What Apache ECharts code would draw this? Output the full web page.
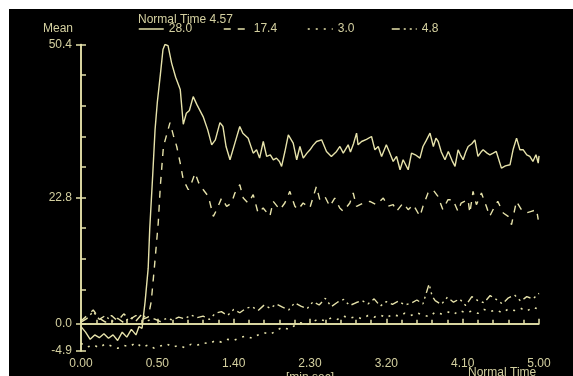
<!DOCTYPE html>
<html lang="en">

<head>
  <meta charset="UTF-8">
  <title>Mean - Normal Time</title>
  <script src="https://cdn.jsdelivr.net/npm/echarts@6/dist/echarts.min.js"></script>
  <style>
    body { margin: 0; background: #fff; }
    #chart { position: absolute; left: 9px; top: 9px; width: 564px; height: 367px; background: #000; }
  </style>
</head>

<body>
  <div id="chart"></div>
  <script>
    // time in seconds, value = mean
    var solidT = [0, 3, 6, 9, 12, 15, 18, 21, 24, 27, 30, 33, 36, 38, 40, 42, 44, 45, 47, 48.5, 50, 52, 53.7, 55, 57, 59.4, 62, 65, 67, 69, 71, 73.5, 76, 80, 83, 85.6, 88, 91, 93, 95, 97.6, 100.8, 104, 106, 109.5, 112.8, 115, 117, 119.4, 121.6, 124, 126, 128, 130, 131.4, 133.5, 135.8, 139, 141.3, 143.4, 145.6, 148, 150, 152, 154.3, 157.6, 160.8, 164, 167.4, 169.6, 171.8, 175, 176.5, 178.5, 180.5, 181.5, 183.8, 187, 190.3, 192.5, 194.7, 196.9, 200, 202, 204.5, 206.7, 209, 211, 214.3, 216.5, 219, 222, 224, 226, 228.6, 230.8, 232.5, 234, 236, 238.4, 240.6, 243, 245, 247, 248.5, 250.3, 252, 253.6, 256, 258, 260, 262, 263.4, 266, 267.8, 270, 272, 275.4, 278, 281, 283, 285.3, 287.5, 289.7, 292, 294, 296, 298, 299.5, 300]
    var solidV = [-0.5, -1.5, -2.8, -2.0, -2.5, -1.8, -2.6, -2.0, -3.0, -1.5, -2.4, -1.0, -2.0, -0.5, -0.8, 4, 10, 17, 27, 35, 40, 45, 49.5, 50.4, 50.2, 47, 44.5, 42.3, 36, 38, 38.5, 41, 39.5, 37.4, 35, 32.3, 33.2, 36.3, 35.6, 32, 29.6, 32.6, 35.6, 34.4, 33.5, 30.8, 31.4, 29.9, 32.9, 30.2, 30.5, 29.6, 29.9, 29.3, 28.4, 31, 34.1, 32.6, 29.6, 32, 29.9, 30.8, 31.4, 32.2, 32.9, 33.2, 31.1, 30.2, 31.1, 32, 30.8, 32.3, 31, 32.5, 34.4, 32.3, 32.9, 33.3, 33.8, 31.4, 32, 30.2, 32.3, 31, 29.3, 30.2, 27.8, 29.6, 27.8, 30.8, 30.5, 29.9, 32, 33, 34.4, 32, 33.5, 32.9, 31, 29.6, 31.1, 29.5, 28.4, 31.4, 30.5, 29.6, 31, 32, 32.5, 33.2, 30.2, 31, 31.4, 30.8, 30.5, 30.8, 31.1, 28.1, 28.5, 28.7, 31.4, 33.5, 31.4, 31.4, 30.5, 30.2, 29.3, 30.5, 29, 30.3]

    var dashT = [0, 4, 8, 12, 16, 20, 24, 28, 32, 36, 40, 44, 46, 48, 50.6, 52, 54, 56, 58.3, 60.5, 62.7, 65, 67, 70.3, 72.5, 74.7, 77, 80.1, 83.4, 86.7, 88.9, 92.1, 95.4, 98.6, 100.8, 104, 106.3, 109.5, 112.8, 116, 119.3, 123.7, 125.9, 130.3, 133.5, 136.8, 140.1, 142.2, 145.5, 149.9, 154.2, 156.4, 159.7, 163, 166.2, 169.5, 171.8, 176.1, 178.3, 180.5, 184.8, 189.2, 193.6, 198, 201, 204.5, 206.7, 211, 214.3, 217.6, 222, 224, 227.3, 230.6, 233.8, 237, 240.4, 243.6, 246.9, 249, 253.5, 254.7, 256.8, 259, 262.3, 265.5, 267.7, 271, 273, 276.6, 279.8, 282, 285.2, 288.5, 291.7, 295, 298.4, 299.5]
    var dashV = [0.5, 1.5, 2.5, 1, 0.3, 1.5, 0.5, 1.8, 0.8, 1.5, 0.8, 1.2, 4, 10, 18.2, 25, 32, 34, 36.3, 34, 32, 29, 26, 24.2, 25.5, 27.2, 25.5, 24.2, 23, 19.4, 20.6, 22.7, 21.2, 21.8, 23.6, 25.1, 22.7, 21.8, 23.3, 20, 20.9, 19.4, 22.1, 20.6, 21.8, 23.9, 21.2, 20.6, 21.8, 20.9, 24.8, 22.4, 23, 21.2, 22.7, 20.9, 20.3, 21.8, 23.6, 21.2, 21.8, 22.1, 21.5, 22.7, 21.2, 21.5, 20.3, 21.8, 20.6, 21.5, 19.4, 21.2, 23.6, 24.2, 23, 20.6, 22.4, 22.4, 20.3, 21.8, 22.4, 20, 23.9, 21.5, 23.6, 21.2, 19.4, 21.2, 22.1, 20, 19.4, 17.9, 22.1, 20.6, 20, 20.3, 20.6, 18.8]

    var dotT = [0, 4, 8, 12, 16, 20, 24, 28, 32, 36, 40, 44, 48, 52, 56, 60, 64, 68, 72, 76, 80, 84, 88, 92, 96, 100, 104, 108, 112, 116, 120, 124, 128, 132, 136, 140, 144, 148, 152, 156, 160, 164, 168, 172, 176, 180, 184, 188, 192, 196, 200, 204, 208, 212, 216, 220, 224, 228, 232, 236, 240, 244, 248, 252, 256, 260, 264, 268, 272, 276, 280, 284, 288, 292, 296, 300]
    var dotV = [-3.5, -4.2, -3.8, -4.3, -3.6, -4.0, -4.4, -3.9, -4.1, -3.4, -4.2, -3.8, -4.4, -4.0, -3.6, -4.2, -3.9, -4.3, -3.7, -3.9, -3.4, -3.6, -3.0, -3.3, -2.8, -3.0, -2.5, -2.2, -2.6, -2.0, -1.6, -1.9, -1.2, -0.6, -1.0, -0.3, 0.2, -0.2, 0.4, 0.9, 0.5, 1.1, 0.8, 1.4, 1.0, 1.3, 0.9, 1.5, 1.2, 1.6, 1.1, 1.7, 1.4, 1.9, 1.5, 2.0, 1.6, 1.3, 2.1, 1.8, 2.2, 1.7, 2.4, 2.0, 2.3, 1.9, 2.6, 2.2, 2.5, 2.0, 2.7, 2.4, 2.8, 2.3, 3.0, 2.6]

    var dashDotT = [0, 4, 8, 12, 16, 20, 24, 28, 32, 36, 40, 44, 48, 52, 56, 60, 64, 68, 72, 76, 80, 84, 88, 92, 96, 100, 104, 108, 112, 116, 120, 124, 128, 132, 136, 140, 144, 148, 152, 156, 160, 164, 168, 172, 176, 180, 184, 188, 192, 196, 200, 204, 208, 212, 216, 220, 224, 228, 230, 232, 236, 240, 244, 248, 252, 256, 260, 264, 268, 272, 276, 280, 284, 288, 292, 296, 300]
    var dashDotV = [0.3, 1.0, 2.2, 0.8, 1.5, 0.4, 1.0, 0.2, 1.2, 0.5, 1.8, 0.6, 0.9, 0.4, 1.0, 0.7, 1.2, 0.9, 1.6, 1.1, 1.4, 0.8, 1.9, 2.2, 1.5, 2.6, 2.0, 2.8, 3.1, 2.4, 3.4, 2.8, 3.6, 3.0, 2.5, 3.8, 3.2, 2.7, 4.0, 3.4, 4.6, 3.1, 3.9, 4.4, 3.3, 3.8, 4.2, 3.6, 4.5, 3.2, 4.0, 3.5, 4.1, 3.4, 3.7, 4.3, 3.6, 7.2, 5.0, 4.2, 3.5, 4.8, 3.9, 4.5, 3.3, 4.9, 4.2, 3.8, 5.1, 4.4, 3.6, 4.7, 5.2, 4.1, 4.9, 4.5, 5.5]

    var seriesNames = ['28.0', '17.4', '3.0', '4.8']
    var yLabels = [-4.9, 0, 22.8, 50.4]
    var yTicks = [50.4, 44.88, 39.36, 33.84, 28.32, 22.8, 17.28, 11.76, 6.24, 0, -4.9]

    var lineColor = '#e6e2aa'
    var textColor = '#d4d0a0'
    var font = 'Liberation Sans, Arial, sans-serif'
    var dashes = ['solid', [7, 7], [2, 6], [8, 4, 2, 4, 2, 4]]
    var legendLeft = [129, 214, 298, 382]

    function pairs(t, v) {
      var out = []
      for (var i = 0; i < t.length; i++) {
        out.push([t[i], v[i]])
      }
      return out
    }

    // 50 -> "0.50", 100 -> "1.40"
    function minSec(val) {
      var m = Math.floor(val / 60)
      var s = Math.round(val - m * 60)
      return m + '.' + (s < 10 ? '0' + s : s)
    }

    var mCharts = echarts.init(document.getElementById('chart'))

    var xBase = { type: 'value', min: 0, max: 300, interval: 50, splitLine: { show: false } }
    var yBase = { type: 'value', min: -4.9, max: 50.4, splitLine: { show: false } }
    var titleText = { color: textColor, fontSize: 12, fontWeight: 'normal', fontFamily: font }

    // one legend per series so the items sit at fixed places
    var legends = seriesNames.map(function (name, i) {
      return {
        left: legendLeft[i],
        top: 14,
        padding: 0,
        itemWidth: 25,
        itemHeight: 10,
        itemGap: 0,
        itemStyle: { opacity: 0 },
        lineStyle: { width: 1.5 },
        textStyle: { color: textColor, fontSize: 12, fontFamily: font },
        data: [name]
      }
    })

    var series = [
      { t: solidT, v: solidV },
      { t: dashT, v: dashV },
      { t: dotT, v: dotV },
      { t: dashDotT, v: dashDotV }
    ].map(function (s, i) {
      return {
        name: seriesNames[i],
        type: 'line',
        symbol: 'none',
        data: pairs(s.t, s.v),
        lineStyle: { color: lineColor, width: i === 2 ? 1.6 : 1.4, type: dashes[i] },
        itemStyle: { color: lineColor }
      }
    })
    // the zero line
    series[0].markLine = {
      silent: true, symbol: 'none', label: { show: false },
      lineStyle: { color: lineColor, width: 1.5, type: 'solid' },
      data: [{ yAxis: 0 }]
    }

    var option = {
      backgroundColor: '#000',
      animation: false,
      textStyle: { fontFamily: font },
      title: [
        { text: 'Mean', left: 34, top: 14, padding: 0, textStyle: titleText },
        { text: 'Normal Time 4.57', left: 129, top: 5, padding: 0, textStyle: titleText },
        { text: 'Normal Time', left: 459, top: 358, padding: 0, textStyle: titleText }
      ],
      legend: legends,
      grid: { left: 72, right: 34, top: 35.5, bottom: 25, outerBoundsMode: 'none', containLabel: false },
      xAxis: [
        Object.assign({}, xBase, {
          name: '[min.sec]',
          nameLocation: 'middle',
          nameGap: 21,
          nameMoveOverlap: false,
          nameTextStyle: { color: textColor, fontSize: 12, fontFamily: font },
          axisLine: { lineStyle: { color: lineColor, width: 1.5 } },
          axisTick: { inside: true, length: 5, lineStyle: { color: lineColor, width: 1.5 } },
          minorTick: { show: true, splitNumber: 5, length: 4, lineStyle: { color: lineColor, width: 1.5 } },
          axisLabel: { color: textColor, fontSize: 12, margin: 7, formatter: minSec }
        }),
        Object.assign({}, xBase, {
          axisLine: { show: false },
          axisTick: { inside: false, length: 3, lineStyle: { color: lineColor, width: 1.5 } },
          axisLabel: { show: false }
        })
      ],
      yAxis: [
        Object.assign({}, yBase, {
          axisLine: { show: true, lineStyle: { color: lineColor, width: 1.5 } },
          axisTick: { show: true, inside: true, length: 5, customValues: yTicks, lineStyle: { color: lineColor, width: 1.5 } },
          axisLabel: {
            color: textColor, fontSize: 12, margin: 9, customValues: yLabels,
            formatter: function (v) { return v.toFixed(1) }
          }
        }),
        Object.assign({}, yBase, {
          position: 'right',
          axisLine: { show: true, lineStyle: { color: lineColor, width: 1.5 } },
          axisTick: { show: false },
          axisLabel: { show: false }
        }),
        Object.assign({}, yBase, {
          position: 'left',
          axisLine: { show: false },
          axisTick: { show: true, inside: false, length: 5, customValues: [50.4, 22.8, 0, -4.9], lineStyle: { color: lineColor, width: 1.5 } },
          axisLabel: { show: false }
        })
      ],
      series: series
    }
    mCharts.setOption(option)
  </script>
</body>

</html>
